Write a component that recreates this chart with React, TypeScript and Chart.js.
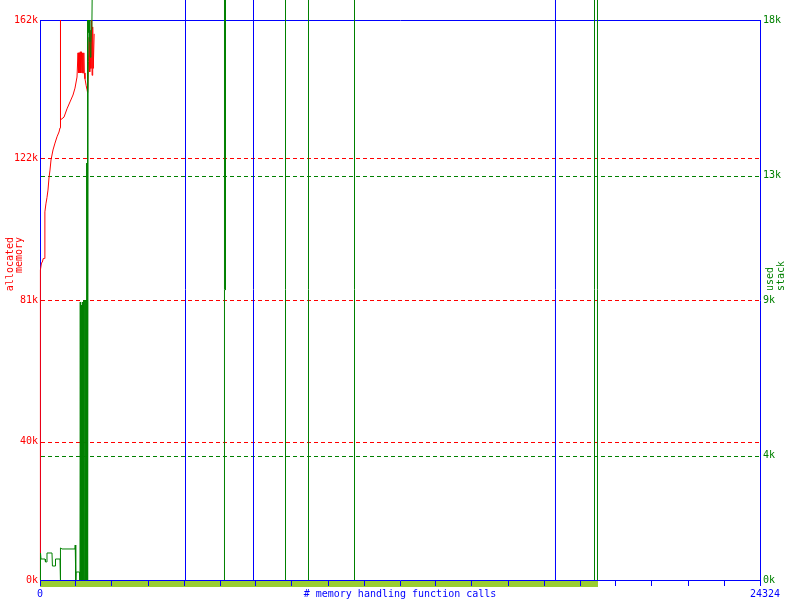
import { useEffect, useRef } from 'react';
import { Chart, registerables } from 'chart.js';

Chart.register(...registerables);

const RED = 'rgb(255,0,0)';
const GREEN = 'rgb(0,128,0)';
const BLUE = 'rgb(0,0,255)';
const BAND = 'rgb(154,205,50)';
const FONT = '"DejaVu Sans Mono", monospace';

// x axis: number of memory handling function calls
const X_MAX = 24324;
const xTickCalls = [0, 1216, 2432, 3649, 4865, 6081, 7297, 8513, 9730, 10946, 12162, 13378, 14594, 15811, 17027, 18243, 19459, 20675, 21892, 23108, 24324];
const xLabelCalls = [0, 24324];
const xLabels = ['0', '24324'];
const activeCallRange = [0, 18850];

// left axis: allocated memory (bytes)
const memTickValues = [0, 40000, 81000, 122000, 162000];
const memTickLabels = ['0k', '40k', '81k', '122k', '162k'];
// right axis: used stack (bytes)
const stackTickValues = [0, 4000, 9000, 13000, 18000];
const stackTickLabels = ['0k', '4k', '9k', '13k', '18k'];

// allocated memory series
const memCalls = [0, 14, 50, 80, 110, 150, 165, 200, 235, 270, 304, 338, 372, 439, 507, 574, 642, 676, 680, 688, 709, 811, 912, 1013, 1115, 1182, 1250, 1284, 1290, 1300, 1315, 1330, 1345, 1360, 1380, 1400, 1420, 1440, 1460, 1480, 1495, 1520, 1560, 1590, 1600, 1615, 1640, 1660, 1680, 1700, 1720, 1745, 1760, 1780, 1800, 1830];
const memBytes = [0, 89700, 91700, 92000, 93000, 93000, 106500, 108800, 110600, 112800, 116300, 118600, 121500, 124400, 126400, 128200, 129600, 130800, 162000, 131500, 133100, 133900, 136300, 138300, 140300, 142300, 145500, 152500, 146700, 152500, 146700, 152500, 146700, 152800, 146700, 152800, 146700, 152500, 146700, 152500, 146700, 145000, 143000, 141800, 152000, 141000, 150000, 157000, 147000, 159000, 148000, 162000, 146000, 160000, 148000, 158000];

// used stack series (null = gap)
const stackCalls = [0, 17, 34, 169, 185, 220, 236, 405, 420, 507, 524, 676, 683, 700, 743, 1182, 1190, 1205, 1210, 1220, 1334,
  1350, 1360, 1370, 1380, 1390, 1400, 1410, 1420, 1430, 1440, 1450, 1460, 1470, 1480, 1490, 1500, 1510, 1520, 1530, 1540, 1550, 1560, 1570,
  1580, 1590, 1600, 1615, 1625, 1645, 1665, 1685, 1700, 1720, 1740, 1755, 1775, 1776,
  6233, 6233, 6267, 6267, 6268,
  8294, 8294, 8295,
  9071, 9071, 9072,
  10625, 10625, 10626,
  18733, 18733, 18734,
  18834, 18834, 18835];
const stackBytes = [0, 868, 675, 675, 580, 580, 868, 868, 450, 450, 675, 675, 0, 1030, 997, 997, 1125, 1125, 0, 257, 257,
  0, 8935, 0, 8935, 0, 8839, 0, 8839, 0, 8935, 0, 8935, 0, 9000, 0, 9000, 0, 9000, 0, 9000, 0, 9000, 0,
  13400, 9000, 18000, 0, 18000, 17600, 18000, 17300, 16800, 17200, 17700, 18000, 20000, null,
  0, 20000, 20000, 9320, null,
  0, 20000, null,
  0, 20000, null,
  0, 20000, null,
  0, 20000, null,
  0, 20000, null];

// blue marker lines
const blueMarkerCalls = [4916, 7213, 17415];
const blueMarkerLevel = 20000;

const memLabel = ['allocated', 'memory'];
const stackLabel = ['used', 'stack'];
const xTitle = '# memory handling function calls';

const decorPlugin = {
  id: 'decor',
  beforeDraw(chart: any) {
    const { ctx, chartArea: a, scales } = chart;
    const x = scales.x;
    const x0 = Math.round(x.getPixelForValue(activeCallRange[0]));
    const x1 = Math.round(x.getPixelForValue(activeCallRange[1]));
    ctx.save();
    ctx.fillStyle = BAND;
    ctx.fillRect(x0, a.bottom + 1, x1 - x0, 6);
    ctx.restore();
  },
  beforeDatasetsDraw(chart: any) {
    const { ctx, chartArea: a, scales } = chart;
    ctx.save();
    ctx.lineWidth = 1;
    ctx.strokeStyle = BLUE;
    ctx.beginPath();
    ctx.moveTo(a.left, a.top + 0.5);
    ctx.lineTo(a.right + 1, a.top + 0.5);
    ctx.stroke();
    ctx.setLineDash([4, 3]);
    const dashed = (scale: any, values: number[], color: string) => {
      ctx.strokeStyle = color;
      values.slice(1, -1).forEach((v) => {
        const y = Math.round(scale.getPixelForValue(v)) + 0.5;
        ctx.beginPath();
        ctx.moveTo(a.left + 1, y);
        ctx.lineTo(a.right, y);
        ctx.stroke();
      });
    };
    dashed(scales.y2, stackTickValues, GREEN);
    dashed(scales.y, memTickValues, RED);
    ctx.restore();
  },
  afterDraw(chart: any) {
    const { ctx, chartArea: a, scales } = chart;
    ctx.save();
    ctx.font = `10px ${FONT}`;
    ctx.fillStyle = BLUE;
    ctx.textBaseline = 'alphabetic';
    xLabelCalls.forEach((c, i) => {
      const px = scales.x.getPixelForValue(c);
      if (i === 0) {
        ctx.textAlign = 'center';
        ctx.fillText(xLabels[i], px, 597);
      } else {
        ctx.textAlign = 'left';
        ctx.fillText(xLabels[i], px - 10, 597);
      }
    });
    ctx.textAlign = 'center';
    ctx.fillText(xTitle, (a.left + a.right) / 2, 597);

    // left title
    ctx.fillStyle = RED;
    ctx.save();
    ctx.translate(12.5, 237);
    ctx.rotate(-Math.PI / 2);
    ctx.textAlign = 'right';
    ctx.fillText(memLabel[0], 0, 0);
    ctx.restore();
    ctx.save();
    ctx.translate(21.5, 237);
    ctx.rotate(-Math.PI / 2);
    ctx.textAlign = 'right';
    ctx.fillText(memLabel[1], 0, 0);
    ctx.restore();

    // right title
    ctx.fillStyle = GREEN;
    ctx.save();
    ctx.translate(773, 291);
    ctx.rotate(-Math.PI / 2);
    ctx.textAlign = 'left';
    ctx.fillText(stackLabel[0], 0, 0);
    ctx.restore();
    ctx.save();
    ctx.translate(784, 291);
    ctx.rotate(-Math.PI / 2);
    ctx.textAlign = 'left';
    ctx.fillText(stackLabel[1], 0, 0);
    ctx.restore();
    ctx.restore();
  },
};

export default function App() {
  const ref = useRef<HTMLCanvasElement | null>(null);

  useEffect(() => {
    document.body.style.margin = '0';
    const canvas = ref.current;
    if (!canvas) return;

    const memData = memCalls.map((c, i) => ({ x: c, y: memBytes[i] }));
    const stackData = stackCalls.map((c, i) => ({ x: c, y: stackBytes[i] }));
    const blueData: any[] = [];
    blueMarkerCalls.forEach((c) => {
      blueData.push({ x: c, y: 0 }, { x: c, y: blueMarkerLevel }, { x: c + 1, y: null });
    });

    const chart = new Chart(canvas, {
      type: 'line',
      data: {
        datasets: [
          {
            label: 'used stack',
            data: stackData,
            yAxisID: 'y2',
            borderColor: GREEN,
            borderWidth: 1,
            pointRadius: 0,
            tension: 0,
            clip: false as any,
            spanGaps: false,
            order: 0,
          },
          {
            label: 'allocated memory',
            data: memData,
            yAxisID: 'y',
            borderColor: RED,
            borderWidth: 1,
            pointRadius: 0,
            tension: 0,
            clip: false as any,
            order: 1,
          },
          {
            label: 'markers',
            data: blueData,
            yAxisID: 'y2',
            borderColor: BLUE,
            borderWidth: 1,
            pointRadius: 0,
            tension: 0,
            clip: false as any,
            spanGaps: false,
            order: 2,
          },
        ],
      },
      options: {
        animation: false,
        responsive: false,
        maintainAspectRatio: false,
        devicePixelRatio: 1,
        layout: { padding: { top: 20, left: 0, right: 0, bottom: 0 } },
        plugins: { legend: { display: false }, tooltip: { enabled: false } },
        scales: {
          x: {
            type: 'linear',
            position: 'bottom',
            min: 0,
            max: X_MAX,
            z: 1,
            afterBuildTicks: (s: any) => {
              s.ticks = xTickCalls.map((v) => ({ value: v }));
            },
            afterFit: (s: any) => {
              s.height = 20;
            },
            ticks: { display: false },
            grid: {
              display: true,
              drawOnChartArea: false,
              drawTicks: true,
              tickLength: 6,
              color: BLUE,
              lineWidth: 1,
            },
            border: { display: true, color: BLUE, width: 1 },
          },
          y: {
            type: 'linear',
            position: 'left',
            min: 0,
            max: memTickValues[memTickValues.length - 1],
            afterBuildTicks: (s: any) => {
              s.ticks = memTickValues.map((v) => ({ value: v }));
            },
            afterFit: (s: any) => {
              s.width = 40;
            },
            ticks: {
              color: RED,
              padding: 2,
              font: { family: FONT, size: 10 },
              callback: (_v: any, i: number) => memTickLabels[i],
            },
            grid: { display: false, drawTicks: false },
            border: { display: true, color: BLUE, width: 1 },
          },
          y2: {
            type: 'linear',
            position: 'right',
            min: 0,
            max: stackTickValues[stackTickValues.length - 1],
            afterBuildTicks: (s: any) => {
              s.ticks = stackTickValues.map((v) => ({ value: v }));
            },
            afterFit: (s: any) => {
              s.width = 40;
            },
            ticks: {
              color: GREEN,
              padding: 3,
              font: { family: FONT, size: 10 },
              callback: (_v: any, i: number) => stackTickLabels[i],
            },
            grid: { display: false, drawTicks: false },
            border: { display: true, color: BLUE, width: 1 },
          },
        },
      } as any,
      plugins: [decorPlugin],
    });

    return () => chart.destroy();
  }, []);

  return (
    <div style={{ width: 800, height: 600 }}>
      <canvas ref={ref} width={800} height={600} style={{ display: 'block', width: 800, height: 600 }} />
    </div>
  );
}
